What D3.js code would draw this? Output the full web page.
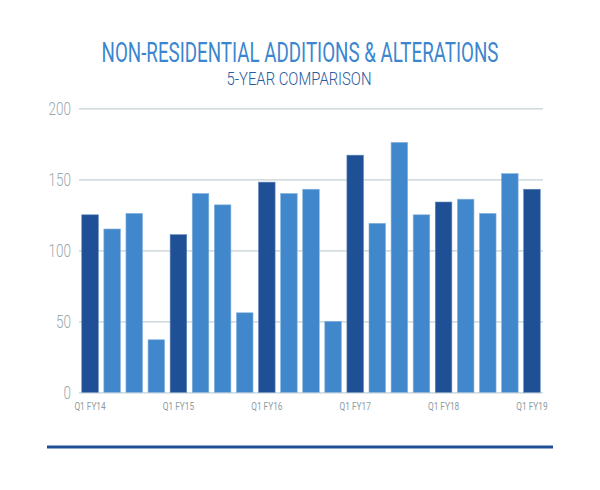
<!DOCTYPE html>
<html><head><meta charset="utf-8">
<script src="https://cdn.jsdelivr.net/npm/d3@7"></script>
<style>body{margin:0;background:#fff}svg{display:block}</style>
</head><body>
<svg id="c" width="600" height="490"></svg>
<script>
const quarters = ["Q1 FY14","Q2 FY14","Q3 FY14","Q4 FY14","Q1 FY15","Q2 FY15","Q3 FY15","Q4 FY15","Q1 FY16","Q2 FY16","Q3 FY16","Q4 FY16","Q1 FY17","Q2 FY17","Q3 FY17","Q4 FY17","Q1 FY18","Q2 FY18","Q3 FY18","Q4 FY18","Q1 FY19"];
const values = [125,115,126,37,111,140,132,56,148,140,143,50,167,119,176,125,134,136,126,154,143];
const yTicks = [0,50,100,150,200];
const xLabels = ["Q1 FY14","Q1 FY15","Q1 FY16","Q1 FY17","Q1 FY18","Q1 FY19"];
const title = "NON-RESIDENTIAL ADDITIONS & ALTERATIONS";
const subtitle = "5-YEAR COMPARISON";

const svg = d3.select("#c");
const FONT = "Roboto,'DejaVu Sans Condensed',sans-serif";
const x = d3.scaleBand().domain(quarters).range([79,543]).paddingInner(0.25).paddingOuter(0.125);
const y = d3.scaleLinear().domain([0,200]).range([392.3,108.3]);

// compress text horizontally about its anchor point
function squeeze(sel, factor){
  sel.each(function(){
    const t = d3.select(this);
    const ax = +t.attr("x") || 0;
    t.attr("transform", `translate(${ax*(1-factor)},0) scale(${factor},1)`);
  });
}

svg.append("text").attr("x",300).attr("y",62).attr("text-anchor","middle")
  .attr("font-family",FONT).attr("font-size",27).attr("fill","#3b86cf")
  .text(title).call(s=>{const w=s.node().getComputedTextLength(); squeeze(s,397/w);});
svg.append("text").attr("x",299).attr("y",85.5).attr("text-anchor","middle")
  .attr("font-family",FONT).attr("font-size",19).attr("font-weight",300).attr("fill","#2a5a9e")
  .text(subtitle).call(s=>{const w=s.node().getComputedTextLength(); squeeze(s,145/w);});

const yAxis = d3.axisLeft(y).tickValues(yTicks).tickSize(-(543-79)).tickPadding(8);
const gy = svg.append("g").attr("transform","translate(79,0)").call(yAxis);
gy.select(".domain").remove();
gy.selectAll(".tick line").attr("stroke","#c5d0d3").attr("stroke-width",1.2);
gy.selectAll(".tick text").attr("font-family",FONT).attr("font-size",18).attr("font-weight",300).attr("fill","#98a8ae")
  .each(function(){ const t=d3.select(this); const ax=+t.attr("x"); t.attr("transform",`translate(${ax*(1-0.75)},0) scale(0.75,1)`); });

svg.append("g").selectAll("rect").data(values).join("rect")
  .attr("x",(d,i)=>x(quarters[i])).attr("width",x.bandwidth())
  .attr("y",d=>y(d)).attr("height",d=>y(0)-y(d))
  .attr("fill",(d,i)=>quarters[i].startsWith("Q1")?"#1f5096":"#4187cb")
  .attr("stroke",(d,i)=>quarters[i].startsWith("Q1")?"#5f86bb":"#86b3de").attr("stroke-width",0.6);

const xAxis = d3.axisBottom(x).tickValues(xLabels).tickSize(0).tickPadding(10);
const gx = svg.append("g").attr("transform","translate(0,392.3)").call(xAxis);
gx.select(".domain").remove();
gx.selectAll(".tick text").attr("font-family",FONT).attr("font-size",11.5).attr("fill","#8c9ca3")
  .attr("transform","scale(0.72,1)");

svg.append("line").attr("x1",47).attr("x2",553).attr("y1",447).attr("y2",447)
  .attr("stroke","#1f4e96").attr("stroke-width",3);
</script>
</body></html>
